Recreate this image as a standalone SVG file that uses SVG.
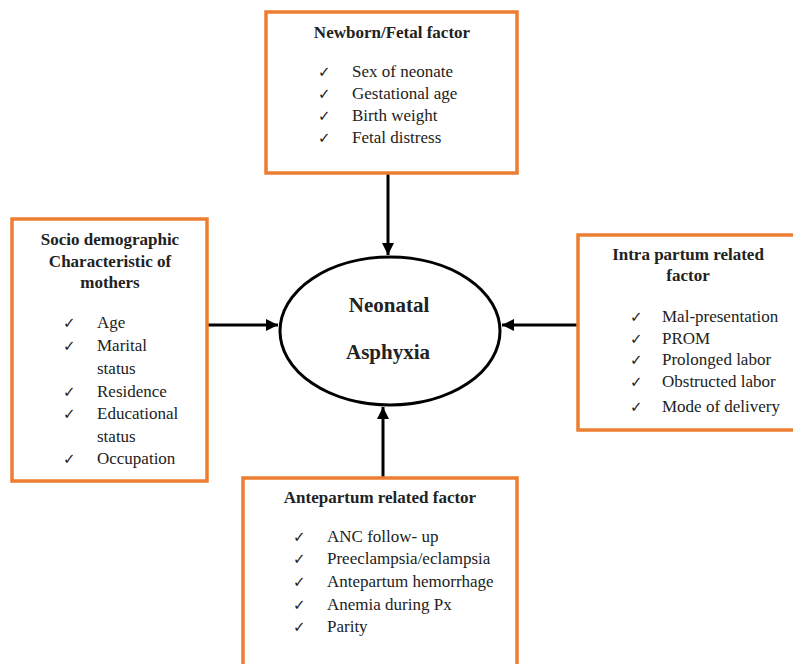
<svg xmlns="http://www.w3.org/2000/svg" width="793" height="664" viewBox="0 0 793 664">
<style>
.box{fill:#fff;stroke:#ED7D31;stroke-width:3.5}
text{font-family:'Liberation Serif','DejaVu Serif','Times New Roman',serif;fill:#222}
.t{font-size:17px}
.h{font-size:17px;font-weight:bold;text-anchor:middle}
.c{font-family:'DejaVu Sans',sans-serif;font-size:15px}
.m{font-size:21px;font-weight:bold;text-anchor:middle}
.ln{stroke:#000;stroke-width:3;fill:none}
</style>
<defs>
<marker id="ah" viewBox="0 0 10 10" refX="10" refY="5" markerWidth="4" markerHeight="4" orient="auto" markerUnits="strokeWidth">
<path d="M0,0 L10,5 L0,10 z" fill="#000"/>
</marker>
</defs>
<rect width="793" height="664" fill="#fff"/>
<g id="connectors">
<line class="ln" x1="388" y1="173" x2="388" y2="255" marker-end="url(#ah)"/>
<line class="ln" x1="207" y1="325" x2="278" y2="325" marker-end="url(#ah)"/>
<line class="ln" x1="578" y1="325" x2="502" y2="325" marker-end="url(#ah)"/>
<line class="ln" x1="383" y1="478" x2="383" y2="407" marker-end="url(#ah)"/>
</g>
<g id="center">
<ellipse cx="390" cy="331" rx="110" ry="74" fill="#fff" stroke="#000" stroke-width="3"/>
<text class="m" x="389" y="312">Neonatal</text>
<text class="m" x="388" y="359">Asphyxia</text>
</g>
<g id="newborn">
<rect class="box" x="266" y="12" width="251" height="161"/>
<text class="h" x="392" y="38">Newborn/Fetal factor</text>
<text class="c" x="318" y="77">✓</text><text class="t" x="352" y="77">Sex of neonate</text>
<text class="c" x="318" y="99">✓</text><text class="t" x="352" y="99">Gestational age</text>
<text class="c" x="318" y="121">✓</text><text class="t" x="352" y="121">Birth weight</text>
<text class="c" x="318" y="143">✓</text><text class="t" x="352" y="143">Fetal distress</text>
</g>
<g id="socio">
<rect class="box" x="12" y="219" width="195" height="262"/>
<text class="h" x="110" y="245">Socio demographic</text>
<text class="h" x="110" y="267">Characteristic of</text>
<text class="h" x="110" y="288">mothers</text>
<text class="c" x="63" y="328">✓</text><text class="t" x="97" y="328">Age</text>
<text class="c" x="63" y="351">✓</text><text class="t" x="97" y="351">Marital</text>
<text class="t" x="97" y="374">status</text>
<text class="c" x="63" y="397">✓</text><text class="t" x="97" y="397">Residence</text>
<text class="c" x="63" y="419">✓</text><text class="t" x="97" y="419">Educational</text>
<text class="t" x="97" y="442">status</text>
<text class="c" x="63" y="464">✓</text><text class="t" x="97" y="464">Occupation</text>
</g>
<g id="intrapartum">
<rect class="box" x="578" y="235" width="220" height="195"/>
<text class="h" x="688" y="260">Intra partum related</text>
<text class="h" x="688" y="281">factor</text>
<text class="c" x="630" y="322">✓</text><text class="t" x="662" y="322">Mal-presentation</text>
<text class="c" x="630" y="344">✓</text><text class="t" x="662" y="344">PROM</text>
<text class="c" x="630" y="365">✓</text><text class="t" x="662" y="365">Prolonged labor</text>
<text class="c" x="630" y="387">✓</text><text class="t" x="662" y="387">Obstructed labor</text>
<text class="c" x="630" y="412">✓</text><text class="t" x="662" y="412">Mode of delivery</text>
</g>
<g id="antepartum">
<rect class="box" x="243" y="478" width="274" height="195"/>
<text class="h" x="380" y="503">Antepartum related factor</text>
<text class="c" x="293" y="542">✓</text><text class="t" x="327" y="542">ANC follow- up</text>
<text class="c" x="293" y="564">✓</text><text class="t" x="327" y="564">Preeclampsia/eclampsia</text>
<text class="c" x="293" y="587">✓</text><text class="t" x="327" y="587">Antepartum hemorrhage</text>
<text class="c" x="293" y="610">✓</text><text class="t" x="327" y="610">Anemia during Px</text>
<text class="c" x="293" y="632">✓</text><text class="t" x="327" y="632">Parity</text>
</g>
</svg>
